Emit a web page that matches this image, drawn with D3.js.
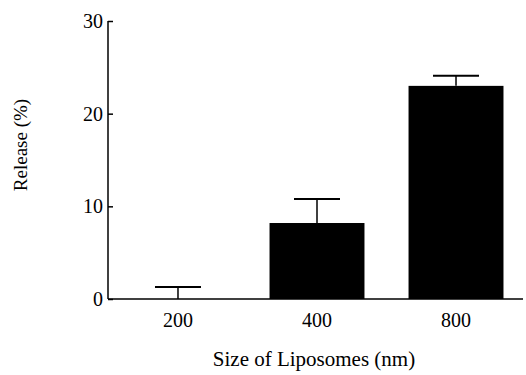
<!DOCTYPE html>
<html>
<head>
<meta charset="utf-8">
<script src="https://cdn.jsdelivr.net/npm/d3@7"></script>
<style>
  body { margin: 0; background: #fff; }
</style>
</head>
<body>
<svg></svg>
<script>
// liposome size categories and release values (%)
const sizes = ["200", "400", "800"];
const release = [0, 8.2, 23.0];
const releaseErr = [1.3, 2.6, 1.1];
const yTicks = [0, 10, 20, 30];

const serif = "Liberation Serif";
const width = 526, height = 375;
const svg = d3.select("svg").attr("width", width).attr("height", height);

const x = d3.scaleBand()
    .domain(sizes)
    .range([108, 526])
    .paddingInner(0.317)
    .paddingOuter(0.162);

const y = d3.scaleLinear()
    .domain([0, 30])
    .range([299, 21]);

const data = sizes.map(function(s, i) {
    return { size: s, value: release[i], err: releaseErr[i] };
});

// bars
svg.selectAll("rect.bar")
    .data(data)
    .join("rect")
    .attr("class", "bar")
    .attr("x", d => x(d.size))
    .attr("y", d => y(d.value))
    .attr("width", x.bandwidth())
    .attr("height", d => y(0) - y(d.value))
    .attr("fill", "#000");

// error bars (upper only)
const capHalf = 23;
svg.selectAll("line.err")
    .data(data)
    .join("line")
    .attr("class", "err")
    .attr("x1", d => x(d.size) + x.bandwidth() / 2)
    .attr("x2", d => x(d.size) + x.bandwidth() / 2)
    .attr("y1", d => y(d.value))
    .attr("y2", d => y(d.value + d.err))
    .attr("stroke", "#000")
    .attr("stroke-width", 1.5);

svg.selectAll("line.cap")
    .data(data)
    .join("line")
    .attr("class", "cap")
    .attr("x1", d => x(d.size) + x.bandwidth() / 2 - capHalf)
    .attr("x2", d => x(d.size) + x.bandwidth() / 2 + capHalf)
    .attr("y1", d => y(d.value + d.err))
    .attr("y2", d => y(d.value + d.err))
    .attr("stroke", "#000")
    .attr("stroke-width", 2);

// y axis, ticks pointing inward
const yAxis = svg.append("g")
    .attr("transform", "translate(108,0)")
    .call(d3.axisRight(y).tickValues(yTicks).tickSize(5));
yAxis.attr("font-family", serif);
yAxis.select(".domain").attr("d", "M0," + y(30) + "V" + y(0)).attr("stroke-width", 1.5);
yAxis.selectAll(".tick line").attr("stroke-width", 1.5);
yAxis.selectAll(".tick text")
    .attr("x", -5)
    .attr("text-anchor", "end")
    .attr("dy", "0.32em")
    .style("font-family", serif)
    .style("font-size", "20px");

// x axis, no ticks
const xAxis = svg.append("g")
    .attr("transform", "translate(0," + y(0) + ")")
    .call(d3.axisBottom(x).tickSize(0).tickPadding(14));
xAxis.attr("font-family", serif);
xAxis.select(".domain").attr("d", "M108,0H523").attr("stroke-width", 1.5);
xAxis.selectAll(".tick text")
    .style("font-family", serif)
    .style("font-size", "20px");

// axis titles
svg.append("text")
    .attr("x", 314)
    .attr("y", 366)
    .attr("text-anchor", "middle")
    .style("font-family", serif)
    .style("font-size", "21px")
    .text("Size of Liposomes (nm)");

svg.append("text")
    .attr("transform", "translate(27,145) rotate(-90)")
    .attr("text-anchor", "middle")
    .style("font-family", serif)
    .style("font-size", "19px")
    .text("Release (%)");
</script>
</body>
</html>
